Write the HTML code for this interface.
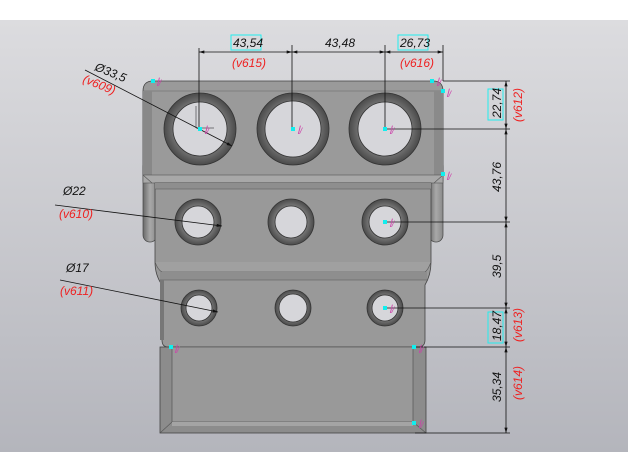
<!DOCTYPE html>
<html><head><meta charset="utf-8"><style>
html,body{margin:0;padding:0;background:#fff;}
svg{display:block;}
text{font-family:"Liberation Sans",sans-serif;font-style:italic;}
</style></head><body>
<svg width="628" height="472" viewBox="0 0 628 472" xmlns="http://www.w3.org/2000/svg">
<defs>
<linearGradient id="bg" x1="0" y1="0" x2="0" y2="1">
<stop offset="0" stop-color="#dcdcdf"/><stop offset="1" stop-color="#b4b5bc"/></linearGradient>
<linearGradient id="side" x1="0" y1="0" x2="1" y2="0">
<stop offset="0" stop-color="#6a6a6a"/><stop offset="0.5" stop-color="#a8a8a8"/><stop offset="1" stop-color="#8a8a8a"/></linearGradient>
<radialGradient id="ring"><stop offset="0.7" stop-color="#777"/><stop offset="1" stop-color="#4a4a4a"/></radialGradient>
<marker id="ar" viewBox="0 0 10 6" refX="10" refY="3" markerWidth="8" markerHeight="4" orient="auto-start-reverse"><path d="M0,0L10,3L0,6z" fill="#111"/></marker>
</defs>
<rect x="0" y="20" width="628" height="432" fill="url(#bg)"/>

<rect x="143" y="160" width="14" height="82" rx="7" fill="url(#side)" stroke="#444" stroke-width="0.7"/>
<rect x="429" y="160" width="14" height="82" rx="7" fill="url(#side)" stroke="#444" stroke-width="0.7"/>
<path d="M153,81 H433 Q443,81 443,91 V181 H143 V91 Q143,81 153,81Z" fill="#9a9a9a" stroke="#444" stroke-width="0.8"/>
<path d="M143,91 H443" stroke="#666" stroke-width="0.6"/>
<rect x="143" y="91" width="9" height="84" fill="#888"/>
<rect x="434" y="91" width="9" height="84" fill="#8a8a8a"/>
<rect x="143" y="175" width="300" height="8" fill="#a8a8a8" stroke="#555" stroke-width="0.6"/>
<path d="M143,175 L152,183 M443,175 L434,183" stroke="#555" stroke-width="0.6"/>
<path d="M155,183 H431 V262 Q431,275 425,285 V340 Q425,347 418,347 H168 Q162,347 162,340 V285 Q155,275 155,262Z" fill="#999" stroke="#444" stroke-width="0.8"/>
<rect x="155" y="183" width="276" height="6" fill="#8e8e8e"/>
<path d="M155,189 H431" stroke="#555" stroke-width="0.6"/>
<path d="M155,262 Q158,270 162,272 H425 Q428,270 431,262" fill="#a0a0a0" stroke="#555" stroke-width="0.6"/>
<rect x="160" y="272" width="267" height="8" fill="#8e8e8e"/>
<path d="M160,280 H427" stroke="#555" stroke-width="0.6"/>
<rect x="160" y="280" width="4" height="60" fill="#777"/>
<rect x="160" y="347" width="266" height="86" fill="#8c8c8c" stroke="#444" stroke-width="0.8"/>
<rect x="172" y="347" width="241" height="75" fill="#999" stroke="#555" stroke-width="0.7"/>
<path d="M160,433 L172,422 M426,433 L413,422" stroke="#555" stroke-width="0.6"/>
<rect x="172" y="422" width="241" height="4" fill="#a4a4a4"/>

<g stroke="#333" stroke-width="0.8">
<circle cx="200" cy="129" r="36" fill="url(#ring)"/><circle cx="200" cy="129" r="27" fill="#d6d6da"/>
<circle cx="293" cy="129" r="36" fill="url(#ring)"/><circle cx="293" cy="129" r="28" fill="#d6d6da"/>
<circle cx="385" cy="129" r="36" fill="url(#ring)"/><circle cx="385" cy="129" r="27" fill="#d6d6da"/>
<circle cx="198" cy="222" r="23" fill="url(#ring)"/><circle cx="198" cy="222" r="16" fill="#d6d6da"/>
<circle cx="291" cy="222" r="23" fill="url(#ring)"/><circle cx="291" cy="222" r="16" fill="#d6d6da"/>
<circle cx="385" cy="222" r="23" fill="url(#ring)"/><circle cx="385" cy="222" r="16" fill="#d6d6da"/>
<circle cx="199" cy="308" r="18" fill="url(#ring)"/><circle cx="199" cy="308" r="13" fill="#d6d6da"/>
<circle cx="293" cy="308" r="18" fill="url(#ring)"/><circle cx="293" cy="308" r="14" fill="#d6d6da"/>
<circle cx="385" cy="308" r="18" fill="url(#ring)"/><circle cx="385" cy="308" r="13" fill="#d6d6da"/>
</g>

<g stroke="#111" stroke-width="0.8" fill="none">
<path d="M199,48 V129 M292,45 V129 M385,45 V129 M443,45 V81"/>
<path d="M199,52 H292" marker-start="url(#ar)" marker-end="url(#ar)"/>
<path d="M292,52 H385" marker-start="url(#ar)" marker-end="url(#ar)"/>
<path d="M385,52 H443" marker-start="url(#ar)" marker-end="url(#ar)"/>
<path d="M443,81 H510 M385,129 H510 M385,222 H510 M385,308 H510 M415,347 H510 M415,433 H510"/>
<path d="M506,81 V129" marker-start="url(#ar)" marker-end="url(#ar)"/>
<path d="M506,129 V222" marker-start="url(#ar)" marker-end="url(#ar)"/>
<path d="M506,222 V308" marker-start="url(#ar)" marker-end="url(#ar)"/>
<path d="M506,308 V347" marker-start="url(#ar)" marker-end="url(#ar)"/>
<path d="M506,347 V433" marker-start="url(#ar)" marker-end="url(#ar)"/>
<path d="M85,70 L232,146" marker-end="url(#ar)"/>
<path d="M55,205 L222,226" marker-end="url(#ar)"/>
<path d="M60,280 L218,312" marker-end="url(#ar)"/>
<path d="M196,106 V128 H214" stroke-width="0.5"/>
</g>
<g fill="none" stroke="#2ee" stroke-width="1">
<rect x="231" y="35" width="30" height="15"/><rect x="398" y="35" width="30" height="15"/>
<rect x="488" y="89" width="15" height="31"/><rect x="488" y="312" width="15" height="31"/>
</g>
<g fill="#111" font-size="12">
<text x="233" y="47">43,54</text><text x="325" y="47">43,48</text><text x="400" y="47">26,73</text>
<text transform="translate(501,118) rotate(-90)">22,74</text>
<text transform="translate(501,192) rotate(-90)">43,76</text>
<text transform="translate(501,278) rotate(-90)">39,5</text>
<text transform="translate(501,341) rotate(-90)">18,47</text>
<text transform="translate(501,402) rotate(-90)">35,34</text>
<text transform="translate(94,70) rotate(22)">Ø33,5</text>
<text x="63" y="195">Ø22</text>
<text x="66" y="272">Ø17</text>
</g>
<g fill="#e22" font-size="12">
<text x="232" y="67">(v615)</text><text x="400" y="67">(v616)</text>
<text transform="translate(82,82) rotate(22)">(v609)</text>
<text x="59" y="218">(v610)</text>
<text x="60" y="295">(v611)</text>
<text transform="translate(522,122) rotate(-90)">(v612)</text>
<text transform="translate(522,342) rotate(-90)">(v613)</text>
<text transform="translate(522,400) rotate(-90)">(v614)</text>
</g>
<g fill="#1ee">
<rect x="151" y="79" width="4" height="4"/><rect x="430" y="79" width="4" height="4"/><rect x="441" y="89" width="4" height="4"/>
<rect x="441" y="172" width="4" height="4"/><rect x="198" y="127" width="4" height="4"/><rect x="291" y="127" width="4" height="4"/>
<rect x="383" y="127" width="4" height="4"/><rect x="383" y="220" width="4" height="4"/><rect x="383" y="306" width="4" height="4"/>
<rect x="169" y="345" width="4" height="4"/><rect x="412" y="345" width="4" height="4"/><rect x="412" y="421" width="4" height="4"/>
</g>
<g fill="#c4a" font-size="9">
<text x="156" y="86">ꟾ/</text><text x="436" y="86">ꟾ/</text><text x="446" y="97">ꟾ/</text><text x="446" y="180">ꟾ/</text>
<text x="204" y="134">ꟾ/</text><text x="297" y="134">ꟾ/</text><text x="389" y="134">ꟾ/</text><text x="389" y="227">ꟾ/</text>
<text x="389" y="313">ꟾ/</text><text x="174" y="353">ꟾ/</text><text x="418" y="353">ꟾ/</text><text x="418" y="428">ꟾ/</text>
</g>
</svg>
</body></html>
